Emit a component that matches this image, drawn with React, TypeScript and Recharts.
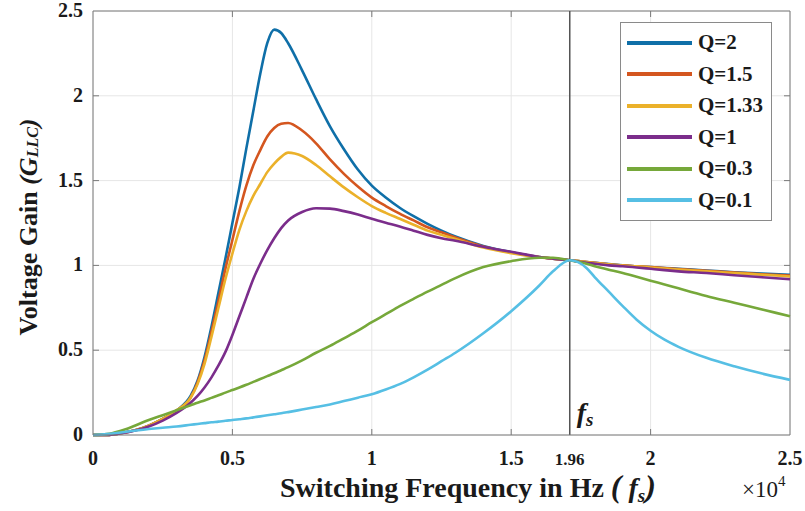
import {
  LineChart,
  Line,
  XAxis,
  YAxis,
  CartesianGrid,
  ReferenceLine,
  Legend,
  Label,
} from 'recharts';

// switching frequency (x 10^4 Hz)
const freq = [
  0, 0.05, 0.1, 0.2, 0.25, 0.3, 0.35, 0.375, 0.4, 0.425, 0.45, 0.475, 0.5, 0.525, 0.55, 0.575,
  0.6, 0.625, 0.65, 0.675, 0.7, 0.75, 0.8, 0.85, 0.9, 0.95, 1.0, 1.05, 1.1, 1.15, 1.2, 1.25, 1.3,
  1.4, 1.5, 1.6, 1.65, 1.71, 1.77, 1.8, 1.85, 1.9, 1.95, 2.0, 2.05, 2.1, 2.2, 2.3, 2.4, 2.5,
];

const gainQ2 = [
  0, 0, 0.01, 0.055, 0.095, 0.145, 0.23, 0.32, 0.46, 0.64, 0.84, 1.04, 1.25, 1.46, 1.69, 1.91,
  2.13, 2.31, 2.39, 2.37, 2.31, 2.15, 1.98, 1.82, 1.685, 1.565, 1.47, 1.4, 1.34, 1.29, 1.245,
  1.205, 1.17, 1.115, 1.078, 1.05, 1.04, 1.03, 1.02, 1.015, 1.008, 1.0, 0.995, 0.99, 0.985, 0.98,
  0.97, 0.96, 0.952, 0.945,
];
const gainQ15 = [
  0, 0, 0.01, 0.055, 0.095, 0.145, 0.22, 0.31, 0.44, 0.61, 0.79, 0.98, 1.15, 1.32, 1.47, 1.59,
  1.68, 1.76, 1.81, 1.835, 1.84, 1.795, 1.72, 1.625, 1.54, 1.465, 1.4, 1.35, 1.305, 1.265, 1.225,
  1.195, 1.165, 1.112, 1.076, 1.05, 1.04, 1.03, 1.02, 1.015, 1.007, 1.0, 0.995, 0.99, 0.984,
  0.978, 0.968, 0.958, 0.948, 0.94,
];
const gainQ133 = [
  0, 0, 0.01, 0.055, 0.095, 0.145, 0.22, 0.3, 0.42, 0.58, 0.75, 0.92, 1.07, 1.21, 1.32, 1.41,
  1.48, 1.55, 1.6, 1.64, 1.665, 1.645, 1.592, 1.525, 1.46, 1.402, 1.35, 1.31, 1.275, 1.24, 1.205,
  1.18, 1.155, 1.105, 1.072, 1.048, 1.04, 1.03, 1.02, 1.014, 1.006, 0.999, 0.994, 0.988, 0.982,
  0.976, 0.965, 0.955, 0.945, 0.935,
];
const gainQ1 = [
  0, 0, 0.01, 0.05, 0.085, 0.13, 0.19, 0.23, 0.28, 0.34, 0.41, 0.49, 0.59, 0.7, 0.81, 0.92,
  1.01, 1.09, 1.16, 1.22, 1.265, 1.315, 1.337, 1.335, 1.32, 1.3, 1.275, 1.252, 1.23, 1.205, 1.18,
  1.16, 1.145, 1.11, 1.08, 1.05, 1.04, 1.03, 1.015, 1.01, 1.0, 0.995, 0.988, 0.98, 0.972, 0.965,
  0.955, 0.942, 0.93, 0.918,
];
const gainQ03 = [
  0, 0.005, 0.025, 0.088, 0.117, 0.146, 0.175, 0.19, 0.204, 0.219, 0.234, 0.25, 0.265, 0.28,
  0.296, 0.313, 0.33, 0.347, 0.364, 0.382, 0.4, 0.44, 0.485, 0.525, 0.57, 0.615, 0.665, 0.712,
  0.76, 0.803, 0.845, 0.885, 0.925, 0.99, 1.025, 1.045, 1.045, 1.03, 1.01, 0.995, 0.975, 0.955,
  0.933, 0.91, 0.888, 0.865, 0.82, 0.78, 0.74, 0.7,
];
const gainQ01 = [
  0, 0.005, 0.015, 0.035, 0.043, 0.05, 0.06, 0.065, 0.07, 0.075, 0.079, 0.084, 0.088, 0.093,
  0.098, 0.104, 0.11, 0.116, 0.122, 0.128, 0.135, 0.15, 0.165, 0.18, 0.2, 0.22, 0.24, 0.268, 0.3,
  0.34, 0.385, 0.435, 0.485, 0.6, 0.73, 0.88, 0.965, 1.03, 0.985, 0.93, 0.845, 0.76, 0.68, 0.615,
  0.562, 0.52, 0.455, 0.405, 0.362, 0.325,
];

const xTicks = [0, 0.5, 1, 1.5, 1.71, 2, 2.5];
const yTicks = [0, 0.5, 1, 1.5, 2, 2.5];
const fsPos = 1.71;
const fsLabel = '1.96';

const series = [
  { key: 'q2', name: 'Q=2', color: '#0f6fa8', values: gainQ2 },
  { key: 'q15', name: 'Q=1.5', color: '#d4561f', values: gainQ15 },
  { key: 'q133', name: 'Q=1.33', color: '#ebb12a', values: gainQ133 },
  { key: 'q1', name: 'Q=1', color: '#7b2d8b', values: gainQ1 },
  { key: 'q03', name: 'Q=0.3', color: '#76a83a', values: gainQ03 },
  { key: 'q01', name: 'Q=0.1', color: '#56bfe4', values: gainQ01 },
];

const data = freq.map((f, i) => {
  const row: Record<string, number> = { f };
  series.forEach((s) => {
    row[s.key] = s.values[i];
  });
  return row;
});

const W = 805;
const H = 511;
const TOP = 11;
const RIGHT = 15;
const LEFT = 93;
const BOTTOM = 76;
const plotBottom = H - BOTTOM;
const plotRight = W - RIGHT;
const serif = '"Liberation Serif", "Times New Roman", serif';
const axisGrey = '#7a7a7a';

function XTick({ x, payload }: any) {
  const v = payload.value;
  const isFs = v === fsPos;
  const inner = v > 0 && v < 2.5 && !isFs;
  return (
    <g>
      {inner && <line x1={x} x2={x} y1={plotBottom} y2={plotBottom - 6} stroke={axisGrey} />}
      {inner && <line x1={x} x2={x} y1={TOP} y2={TOP + 6} stroke={axisGrey} />}
      <text
        x={x}
        y={plotBottom + 30}
        textAnchor="middle"
        fontFamily={serif}
        fontWeight="bold"
        fontSize={isFs ? 17 : 20}
        fill="#1a1a1a"
      >
        {isFs ? fsLabel : String(v)}
      </text>
    </g>
  );
}

function YTick({ y, payload }: any) {
  const v = payload.value;
  const inner = v > 0 && v < 2.5;
  return (
    <g>
      {inner && <line x1={LEFT} x2={LEFT + 6} y1={y} y2={y} stroke={axisGrey} />}
      {inner && <line x1={plotRight} x2={plotRight - 6} y1={y} y2={y} stroke={axisGrey} />}
      <text
        x={LEFT - 10}
        y={y + 6}
        textAnchor="end"
        fontFamily={serif}
        fontWeight="bold"
        fontSize={20}
        fill="#1a1a1a"
      >
        {String(v)}
      </text>
    </g>
  );
}

function LegendBox() {
  return (
    <div
      style={{
        border: '1.5px solid #8a8a8a',
        background: '#fff',
        padding: '4px 0',
        width: 152,
        boxSizing: 'border-box',
      }}
    >
      {series.map((s) => (
        <div key={s.key} style={{ display: 'flex', alignItems: 'center', height: 31.5 }}>
          <div
            style={{
              width: 65,
              height: 4,
              background: s.color,
              marginLeft: 6,
              marginRight: 6,
            }}
          />
          <span
            style={{
              fontFamily: serif,
              fontWeight: 'bold',
              fontSize: 21,
              color: '#1a1a1a',
            }}
          >
            {s.name}
          </span>
        </div>
      ))}
    </div>
  );
}

export default function App() {
  return (
    <div style={{ position: 'absolute', left: 0, top: 0, background: '#fff' }}>
      <LineChart
        width={W}
        height={H}
        data={data}
        margin={{ top: TOP, right: RIGHT, left: 0, bottom: 0 }}
      >
        <CartesianGrid stroke="#e6e6e6" strokeWidth={1} />
        <XAxis
          dataKey="f"
          type="number"
          domain={[0, 2.5]}
          ticks={xTicks}
          interval={0}
          height={BOTTOM}
          tickLine={false}
          tick={<XTick />}
          axisLine={{ stroke: axisGrey }}
        >
          <Label
            content={() => (
              <g fontFamily={serif} fill="#1a1a1a">
                <text x={280} y={497} textAnchor="start" fontSize={28} fontWeight="bold">
                  Switching Frequency in Hz{' '}
                  <tspan fontSize={32} fontStyle="italic">(</tspan>
                  <tspan fontStyle="italic" fontSize={28}> f</tspan>
                  <tspan fontStyle="italic" fontSize={19} dy={5}>s</tspan>
                  <tspan fontSize={32} fontStyle="italic" dy={-5}>)</tspan>
                </text>
                <text x={742} y={497} fontSize={23}>
                  ×10
                  <tspan fontSize={15} dy={-11}>4</tspan>
                </text>
              </g>
            )}
          />
        </XAxis>
        <YAxis
          type="number"
          domain={[0, 2.5]}
          ticks={yTicks}
          interval={0}
          width={LEFT}
          tickLine={false}
          tick={<YTick />}
          axisLine={{ stroke: axisGrey }}
        >
          <Label
            content={() => (
              <text
                x={28}
                y={227}
                transform="rotate(-90, 28, 227)"
                textAnchor="middle"
                dominantBaseline="central"
                fontFamily={serif}
                fontWeight="bold"
                fontSize={26}
                fill="#1a1a1a"
              >
                Voltage Gain{' '}
                <tspan fontStyle="italic">(</tspan>
                <tspan fontStyle="italic">G</tspan>
                <tspan fontStyle="italic" fontSize={16} dy={4}>LLC</tspan>
                <tspan fontStyle="italic" dy={-4}>)</tspan>
              </text>
            )}
          />
        </YAxis>
        <ReferenceLine y={2.5} stroke={axisGrey} />
        <ReferenceLine x={2.5} stroke={axisGrey} />
        <ReferenceLine
          x={fsPos}
          stroke="#555"
          strokeWidth={1.5}
          label={({ viewBox }: any) => (
            <text
              x={viewBox.x + 7}
              y={viewBox.y + viewBox.height - 13}
              fontFamily={serif}
              fontWeight="bold"
              fill="#1a1a1a"
            >
              <tspan fontStyle="italic" fontSize={28}>f</tspan>
              <tspan fontStyle="italic" fontSize={19} dy={4}>s</tspan>
            </text>
          )}
        />
        {series.map((s) => (
          <Line
            key={s.key}
            dataKey={s.key}
            name={s.name}
            type="monotone"
            stroke={s.color}
            strokeWidth={2.6}
            dot={false}
            activeDot={false}
            isAnimationActive={false}
          />
        ))}
        <Legend
          layout="vertical"
          align="center"
          verticalAlign="middle"
          wrapperStyle={{ left: 620, top: 22, width: 153 }}
          content={() => <LegendBox />}
        />
      </LineChart>
    </div>
  );
}
